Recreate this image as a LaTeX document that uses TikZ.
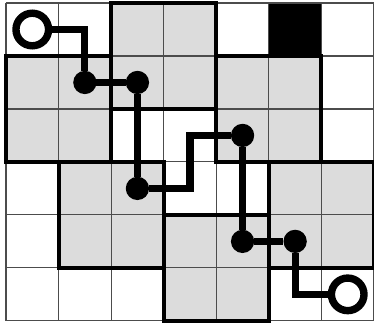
\documentclass[tikz,border=0pt]{standalone}
\definecolor{cellgray}{RGB}{220,220,220}
\begin{document}
\begin{tikzpicture}[x=1cm,y=1.0076cm,
  gridline/.style={draw=black!70,line width=0.6pt},
  regionfill/.style={fill=cellgray},
  regionedge/.style={draw=black,line width=2.1pt},
  pathline/.style={draw=black,line width=3.8pt},
  dot/.style={circle,fill=black,inner sep=0pt,outer sep=0pt,minimum size=0.443cm},
  ring/.style={circle,draw=black,fill=white,line width=4pt,inner sep=0pt,outer sep=0pt,minimum size=0.62cm}]
\useasboundingbox (-0.114,-0.075) rectangle (7.0,6.057);
% shaded regions
\foreach \x/\y in {2/4,0/3,4/3,1/1,5/1,3/0}
  \fill[regionfill] (\x,\y) rectangle ++(2,2);
\fill[black] (5,5) rectangle (6,6);
% thin grid
\foreach \i in {0,...,7} \draw[gridline] (\i,0) -- (\i,6);
\foreach \j in {0,...,6} \draw[gridline] (0,\j) -- (7,\j);
% region outlines
\foreach \x/\y in {2/4,0/3,4/3,1/1,5/1,3/0}
  \draw[regionedge] (\x,\y) rectangle ++(2,2);
% path nodes
\node[ring] (S) at (0.5,5.5) {};
\node[dot] (A) at (1.5,4.5) {};
\node[dot] (B) at (2.5,4.5) {};
\node[dot] (C) at (2.5,2.5) {};
\coordinate (k) at (3.5,3.5);
\node[dot] (D) at (4.5,3.5) {};
\node[dot] (E) at (4.5,1.5) {};
\node[dot] (F) at (5.5,1.5) {};
\node[ring] (T) at (6.5,0.5) {};
% path
\draw[pathline] (S) -| (A);
\draw[pathline] (A) -- (B);
\draw[pathline] (B) -- (C);
\draw[pathline] (C) -| (k) -- (D);
\draw[pathline] (D) -- (E);
\draw[pathline] (E) -- (F);
\draw[pathline] (F) |- (T);
\end{tikzpicture}
\end{document}
